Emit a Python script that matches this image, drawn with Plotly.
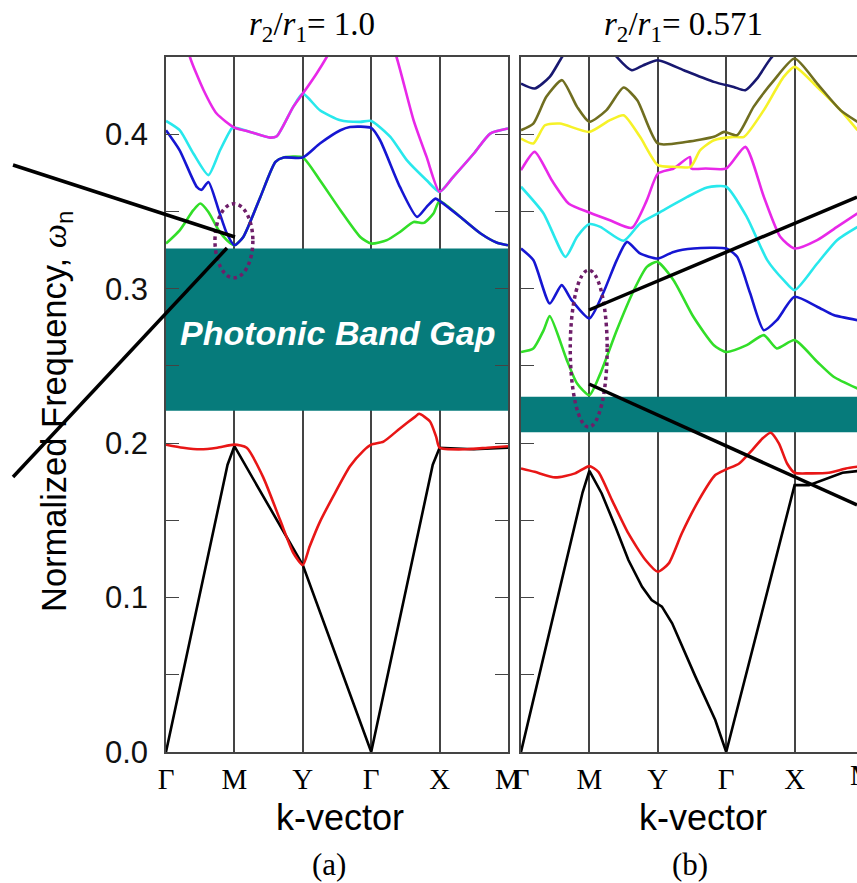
import plotly.graph_objects as go

# ---------------- data (k-path index: Γ=0, M=1, Y=2, Γ=3, X=4, M=5) ----------------
k_labels = ["Γ", "M", "Y", "Γ", "X", "M"]
k_ticks = [0, 1, 2, 3, 4, 5]
y_ticks = [0.0, 0.1, 0.2, 0.3, 0.4]
y_ticktext = ["0.0", "0.1", "0.2", "0.3", "0.4"]
y_minor = [0.05, 0.15, 0.25, 0.35]

# panel (a) r2/r1 = 1.0
ka_black = [0, 0.9, 1.0, 2.0, 3.0, 3.9, 4.0, 4.5, 5.0]
wa_black = [0, 0.186, 0.198, 0.121, 0.0, 0.186, 0.197, 0.196, 0.197]
ka_red = [0, 0.25, 0.5, 0.75, 1.0, 1.18, 1.42, 1.67, 1.86, 2.0, 2.1, 2.25, 2.45, 2.69, 2.885, 3.0,
          3.18, 3.42, 3.64, 3.7, 3.86, 3.95, 4.0, 4.4, 4.7, 5.0]
wa_red = [0.199, 0.197, 0.196, 0.197, 0.199, 0.197, 0.178, 0.150, 0.129, 0.121, 0.133, 0.149,
          0.166, 0.185, 0.195, 0.199, 0.201, 0.2095, 0.217, 0.219, 0.214, 0.204, 0.197, 0.196,
          0.197, 0.198]
ka_green = [0, 0.2, 0.4, 0.5, 0.62, 0.77, 0.89, 1.0, 1.13, 1.38, 1.6, 1.72, 2.0, 2.25, 2.55,
            2.84, 3.0, 3.23, 3.42, 3.62, 3.77, 3.91, 4.0, 4.3, 4.6, 4.84, 5.0]
wa_green = [0.3292, 0.3378, 0.3508, 0.3551, 0.3497, 0.3378, 0.3314, 0.3281, 0.3335, 0.3594,
            0.3821, 0.3849, 0.3849, 0.3702, 0.3508, 0.3335, 0.3292, 0.3314, 0.3367, 0.3432,
            0.3426, 0.3486, 0.3568, 0.3465, 0.3357, 0.3297, 0.3281]
ka_blue = [0, 0.2, 0.45, 0.52, 0.62, 0.77, 0.89, 1.0, 1.13, 1.38, 1.6, 1.72, 2.0, 2.25, 2.55,
           2.69, 3.0, 3.13, 3.42, 3.67, 3.81, 3.94, 4.0, 4.3, 4.6, 4.84, 5.0]
wa_blue = [0.4026, 0.3896, 0.3659, 0.364, 0.3691, 0.3508, 0.3357, 0.3281, 0.3335, 0.3594,
           0.3821, 0.3849, 0.3849, 0.394, 0.4026, 0.4047, 0.4041, 0.3961, 0.3659, 0.3465,
           0.353, 0.3583, 0.3568, 0.3465, 0.3357, 0.3297, 0.3281]
ka_cyan = [0, 0.2, 0.4, 0.62, 0.79, 0.96, 1.0, 1.23, 1.52, 1.62, 1.86, 2.0, 2.25, 2.55, 2.84,
           3.0, 3.28, 3.52, 3.81, 4.0, 4.2, 4.5, 4.74, 5.0]
wa_cyan = [0.4086, 0.4026, 0.3875, 0.3735, 0.3896, 0.4037, 0.4043, 0.4015, 0.3978, 0.3987,
           0.4177, 0.4263, 0.4155, 0.4090, 0.4080, 0.4086, 0.3983, 0.3832, 0.3702, 0.3627,
           0.3724, 0.3875, 0.4004, 0.4037]
ka_mag = [0, 0.2, 0.35, 0.55, 0.74, 1.0, 1.23, 1.52, 1.62, 1.86, 2.0, 2.2, 2.35, 2.6, 3.0,
          3.2, 3.37, 3.62, 3.81, 4.0, 4.2, 4.5, 4.74, 5.0]
wa_mag = [0.52, 0.48, 0.45, 0.4285, 0.4134, 0.4043, 0.4015, 0.3978, 0.3987, 0.4177, 0.4263,
          0.4392, 0.45, 0.47, 0.50, 0.47, 0.45, 0.409, 0.3853, 0.3627, 0.3724, 0.3875, 0.4004, 0.4037]

# panel (b) r2/r1 = 0.571
kb_black = [0, 0.9, 1.0, 1.18, 1.38, 1.57, 1.77, 1.91, 2.06, 2.21, 2.55, 2.84, 3.0, 4.0, 4.21,
            4.46, 4.70, 4.92]
wb_black = [0, 0.168, 0.1821, 0.1674, 0.1458, 0.1243, 0.107, 0.0984, 0.0941, 0.0833, 0.0488,
            0.0207, 0.0, 0.1728, 0.1728, 0.1771, 0.1808, 0.1819]
kb_red = [0, 0.2, 0.5, 0.79, 1.0, 1.13, 1.33, 1.57, 1.82, 2.0, 2.16, 2.35, 2.6, 2.84, 3.0, 3.19,
          3.38, 3.53, 3.65, 3.77, 3.89, 4.0, 4.21, 4.5, 4.75, 4.92]
wb_red = [0.1836, 0.1814, 0.1778, 0.1804, 0.1851, 0.1814, 0.1631, 0.1415, 0.1243, 0.1167,
          0.1221, 0.1415, 0.1631, 0.1793, 0.1830, 0.1868, 0.1955, 0.2030, 0.2067, 0.1998,
          0.1868, 0.1808, 0.1804, 0.1808, 0.1836, 0.1847]
kb_green = [0, 0.18, 0.33, 0.42, 0.67, 0.82, 1.0, 1.16, 1.40, 1.65, 1.84, 1.99, 2.23, 2.52,
            2.82, 3.0, 3.3, 3.55, 3.74, 4.0, 4.33, 4.57, 4.92]
wb_green = [0.259, 0.2613, 0.273, 0.2822, 0.2537, 0.2386, 0.231, 0.245, 0.2731, 0.299, 0.3141,
            0.3174, 0.3055, 0.2818, 0.2634, 0.259, 0.2634, 0.2699, 0.2613, 0.2667, 0.2527,
            0.243, 0.2354]
kb_blue = [0, 0.18, 0.42, 0.595, 0.74, 1.0, 1.2, 1.40, 1.55, 1.74, 2.0, 2.23, 2.52, 3.0, 3.16,
           3.35, 3.55, 3.74, 4.0, 4.33, 4.57, 4.92]
wb_blue = [0.326, 0.3185, 0.2904, 0.3023, 0.2926, 0.2807, 0.297, 0.3185, 0.3303, 0.3228,
           0.3195, 0.3238, 0.326, 0.326, 0.3206, 0.297, 0.2731, 0.2796, 0.2947, 0.2883,
           0.2829, 0.2796]
kb_cyan = [0, 0.33, 0.65, 0.82, 1.0, 1.16, 1.5, 1.74, 2.0, 2.43, 2.72, 3.0, 3.3, 3.6, 3.84,
           4.0, 4.33, 4.62, 4.92]
wb_cyan = [0.366, 0.3487, 0.3206, 0.3336, 0.3418, 0.340, 0.331, 0.3422, 0.3487, 0.3594,
           0.3655, 0.366, 0.3465, 0.3185, 0.3055, 0.299, 0.3163, 0.3314, 0.340]
kb_mag = [0, 0.2, 0.45, 0.7, 1.0, 1.3, 1.62, 1.84, 2.0, 2.23, 2.47, 2.49, 2.7, 3.0, 3.28,
          3.55, 3.79, 4.0, 4.33, 4.62, 4.92]
wb_mag = [0.3767, 0.3886, 0.3702, 0.355, 0.3493, 0.3443, 0.3394, 0.3573, 0.3745, 0.3778,
          0.3853, 0.3778, 0.3778, 0.3778, 0.3918, 0.3595, 0.3336, 0.326, 0.3314, 0.340, 0.3487]
kb_yel = [0, 0.18, 0.35, 0.57, 1.0, 1.3, 1.5, 1.74, 2.0, 2.23, 2.48, 2.62, 2.82, 3.1, 3.26,
          3.55, 3.84, 4.0, 4.33, 4.67, 4.92]
wb_yel = [0.3972, 0.394, 0.4058, 0.4069, 0.4015, 0.4091, 0.4123, 0.3983, 0.380, 0.3789,
          0.3789, 0.3897, 0.3961, 0.3983, 0.3983, 0.4156, 0.4371, 0.4436, 0.4306, 0.4156, 0.4026]
kb_olive = [0, 0.18, 0.37, 0.6, 0.82, 1.0, 1.25, 1.5, 1.7, 2.0, 2.43, 2.82, 2.97, 3.16, 3.4,
            3.7, 4.0, 4.33, 4.67, 4.92]
wb_olive = [0.4026, 0.4069, 0.4242, 0.435, 0.4177, 0.408, 0.4156, 0.4302, 0.422, 0.394,
            0.3951, 0.3983, 0.4015, 0.3994, 0.4177, 0.435, 0.449, 0.4328, 0.4156, 0.408]
kb_navy = [0, 0.2, 0.42, 0.6, 1.0, 1.4, 1.62, 1.79, 2.0, 2.38, 2.82, 3.11, 3.28, 3.45, 3.65,
           4.0, 4.5, 4.92]
wb_navy = [0.4328, 0.4296, 0.4371, 0.45, 0.475, 0.45, 0.4414, 0.4447, 0.4479, 0.4414, 0.4339,
           0.4306, 0.4285, 0.436, 0.449, 0.465, 0.47, 0.47]

gap_a = [0.221, 0.326]
gap_b = [0.207, 0.230]

# ---------------- styling ----------------
W, H = 857, 883
def px(x):
    return x / W
def py(y):
    return 1 - y / H

C_BLACK = "#000000"
C_RED = "rgb(232,22,22)"
C_GREEN = "rgb(50,222,40)"
C_BLUE = "rgb(22,22,210)"
C_CYAN = "rgb(40,232,236)"
C_MAG = "rgb(232,40,232)"
C_YEL = "rgb(246,242,40)"
C_OLIVE = "rgb(112,110,32)"
C_NAVY = "rgb(24,24,112)"
TEAL = "rgb(6,123,123)"
FRAME = "#444444"

fig = go.Figure()

def band(k, w, color, xa, ya, spline=True):
    fig.add_trace(go.Scatter(
        x=k, y=w, mode="lines", xaxis=xa, yaxis=ya, showlegend=False, hoverinfo="skip",
        line=dict(color=color, width=2.6, shape="spline" if spline else "linear",
                  smoothing=0.6 if spline else None)))

band(ka_black, wa_black, C_BLACK, "x", "y", spline=False)
band(ka_red, wa_red, C_RED, "x", "y")
band(ka_green, wa_green, C_GREEN, "x", "y")
band(ka_blue, wa_blue, C_BLUE, "x", "y")
band(ka_cyan, wa_cyan, C_CYAN, "x", "y")
band(ka_mag, wa_mag, C_MAG, "x", "y")

band(kb_black, wb_black, C_BLACK, "x2", "y2", spline=False)
band(kb_red, wb_red, C_RED, "x2", "y2")
band(kb_green, wb_green, C_GREEN, "x2", "y2")
band(kb_blue, wb_blue, C_BLUE, "x2", "y2")
band(kb_cyan, wb_cyan, C_CYAN, "x2", "y2")
band(kb_mag, wb_mag, C_MAG, "x2", "y2")
band(kb_yel, wb_yel, C_YEL, "x2", "y2")
band(kb_olive, wb_olive, C_OLIVE, "x2", "y2")
band(kb_navy, wb_navy, C_NAVY, "x2", "y2")

x_left_a, x_right_a = 166, 508
x_left_b = 521
seg = (x_right_a - x_left_a) / 5.0
y_top, y_bot = 57, 752

xcommon = dict(
    tickmode="array", tickvals=k_ticks, ticktext=k_labels, showgrid=True,
    gridcolor=FRAME, gridwidth=1.5, showline=True, linecolor=FRAME, linewidth=1.5,
    mirror=True, ticks="", zeroline=False, automargin=False,
    tickfont=dict(family="Liberation Serif", size=29, color="black"),
    ticklabelstandoff=0,
)
ycommon = dict(
    range=[0, 0.45], tickmode="array", tickvals=y_ticks, ticktext=y_ticktext,
    showgrid=False, zeroline=False, showline=True, linecolor=FRAME, linewidth=1.5,
    ticks="inside", ticklen=13, tickcolor=FRAME, tickwidth=1.3, automargin=False,
    minor=dict(tickvals=y_minor, ticks="inside", ticklen=13, tickcolor=FRAME, tickwidth=1.3),
    tickfont=dict(family="Liberation Sans", size=31, color="#111111"),
    ticklabelstandoff=10,
)

fig.update_layout(
    width=W, height=H, margin=dict(l=0, r=0, t=0, b=0),
    paper_bgcolor="white", plot_bgcolor="white",
    xaxis=dict(domain=[px(x_left_a), px(x_right_a)], range=[0, 5], anchor="y", **xcommon),
    yaxis=dict(domain=[py(y_bot), py(y_top)], anchor="x", **{**ycommon, "mirror": "allticks"}),
    xaxis2=dict(domain=[px(x_left_b), 1.0], range=[0, (W - x_left_b) / seg], anchor="y2",
                **xcommon),
    yaxis2=dict(domain=[py(y_bot), py(y_top)], anchor="x2", showticklabels=False,
                **{**ycommon, "mirror": False}),
)

shapes = [
    dict(type="rect", xref="x", yref="y", x0=0, x1=5, y0=gap_a[0], y1=gap_a[1],
         fillcolor=TEAL, line=dict(width=0), layer="between"),
    dict(type="rect", xref="x2", yref="y2", x0=0, x1=5, y0=gap_b[0], y1=gap_b[1],
         fillcolor=TEAL, line=dict(width=0), layer="between"),
    dict(type="circle", xref="x", yref="y", x0=0.716, x1=1.27, y0=0.307, y1=0.355,
         line=dict(color="rgb(110,30,105)", width=3.5, dash="dot"), layer="above"),
    dict(type="circle", xref="x2", yref="y2", x0=0.72, x1=1.26, y0=0.2104, y1=0.312,
         line=dict(color="rgb(110,30,105)", width=3.5, dash="dot"), layer="above"),
]
# callout lines (paper coordinates)
callouts = [((13, 165), (235, 237)), ((227, 248), (13, 477)),
            ((589, 310), (857, 197)), ((589, 384), (857, 505))]
for (a, b) in callouts:
    shapes.append(dict(type="line", xref="paper", yref="paper", x0=px(a[0]), y0=py(a[1]),
                       x1=px(b[0]), y1=py(b[1]), line=dict(color="black", width=3.5),
                       layer="above"))
fig.update_layout(shapes=shapes)

serif = "Liberation Serif"
sans = "Liberation Sans"
ann = [
    dict(text="<i>r</i><sub>2</sub>/<i>r</i><sub>1</sub>= 1.0", x=px(312), y=py(27),
         font=dict(family=serif, size=33, color="black")),
    dict(text="<i>r</i><sub>2</sub>/<i>r</i><sub>1</sub>= 0.571", x=px(683), y=py(27),
         font=dict(family=serif, size=33, color="black")),
    dict(text="k-vector", x=px(340), y=py(817), font=dict(family=sans, size=36, color="black")),
    dict(text="k-vector", x=px(703), y=py(817), font=dict(family=sans, size=36, color="black")),
    dict(text="(a)", x=px(329), y=py(864), font=dict(family=serif, size=31, color="black")),
    dict(text="(b)", x=px(690), y=py(864), font=dict(family=serif, size=31, color="black")),
    dict(text="Normalized Frequency, <span style='font-family:Liberation Serif'><i>ω</i></span><sub>n</sub>",
         x=px(56), y=py(412), textangle=-90, font=dict(family=sans, size=34.5, color="black")),
    dict(text="M", x=px(x_left_b + 5 * seg), y=py(775),
         font=dict(family=serif, size=29, color="black")),
]
for a in ann:
    a.update(xref="paper", yref="paper", showarrow=False, xanchor="center", yanchor="middle")
ann.append(dict(text="<b><i>Photonic Band Gap</i></b>", x=2.5, y=0.271, xref="x", yref="y",
                showarrow=False, font=dict(family=sans, size=34, color="white")))
fig.update_layout(annotations=ann)

fig.write_html(
    "out.html",
    config={"displayModeBar": False},
    post_script="document.body.style.margin='0';document.body.style.overflow='hidden';",
)
